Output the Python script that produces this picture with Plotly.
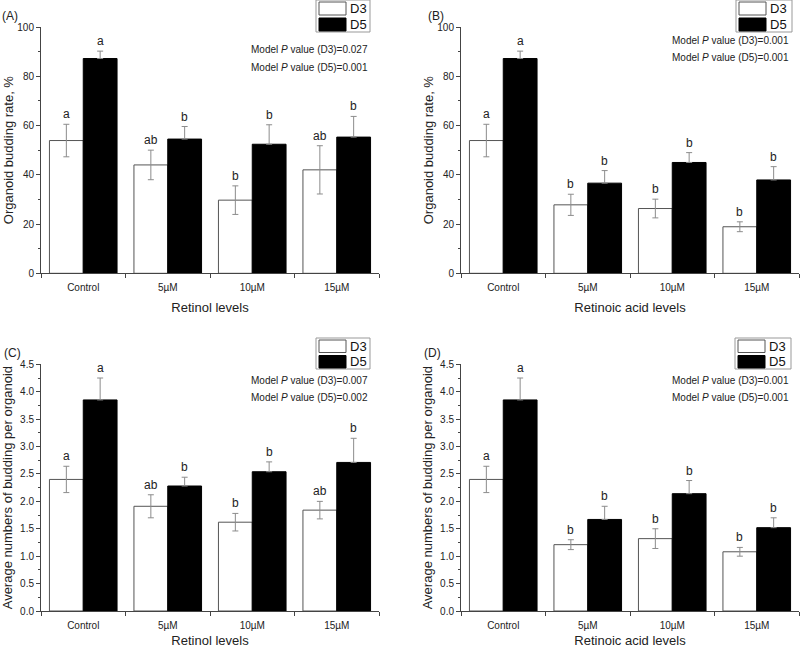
import plotly.graph_objects as go

categories = ["Control", "5µM", "10µM", "15µM"]
xpos = [0, 1, 2, 3]
series_names = ["D3", "D5"]

# Panel A: Retinol, budding rate (%)
a_d3 = [53.9, 44.0, 29.7, 42.0]
a_d3_err = [6.6, 6.0, 5.8, 9.8]
a_d5 = [87.2, 54.5, 52.4, 55.3]
a_d5_err = [3.0, 5.1, 7.9, 8.4]
a_d3_letters = ["a", "ab", "b", "ab"]
a_d5_letters = ["a", "b", "b", "b"]

# Panel B: Retinoic acid, budding rate (%)
b_d3 = [53.9, 27.8, 26.3, 18.9]
b_d3_err = [6.6, 4.3, 3.8, 2.0]
b_d5 = [87.2, 36.6, 45.0, 37.9]
b_d5_err = [3.0, 5.1, 4.0, 5.4]
b_d3_letters = ["a", "b", "b", "b"]
b_d5_letters = ["a", "b", "b", "b"]

# Panel C: Retinol, average number of buds
c_d3 = [2.40, 1.91, 1.62, 1.84]
c_d3_err = [0.24, 0.21, 0.16, 0.16]
c_d5 = [3.85, 2.28, 2.54, 2.71]
c_d5_err = [0.40, 0.16, 0.18, 0.44]
c_d3_letters = ["a", "ab", "b", "ab"]
c_d5_letters = ["a", "b", "b", "b"]

# Panel D: Retinoic acid, average number of buds
d_d3 = [2.40, 1.21, 1.32, 1.08]
d_d3_err = [0.24, 0.09, 0.18, 0.08]
d_d5 = [3.85, 1.67, 2.14, 1.52]
d_d5_err = [0.40, 0.24, 0.24, 0.18]
d_d3_letters = ["a", "b", "b", "b"]
d_d5_letters = ["a", "b", "b", "b"]

p_values = [("0.027", "0.001"), ("0.001", "0.001"), ("0.007", "0.002"), ("0.001", "0.001")]
panel_labels = ["(A)", "(B)", "(C)", "(D)"]
x_titles = ["Retinol levels", "Retinoic acid levels", "Retinol levels", "Retinoic acid levels"]
y_titles = ["Organoid budding rate, %", "Organoid budding rate, %",
            "Average numbers of budding per organoid", "Average numbers of budding per organoid"]

W, H = 800, 648
FONT = "Liberation Sans, Arial, sans-serif"
GREY = "#555555"
ERR = "#8c8c8c"

panels = [
    (a_d3, a_d3_err, a_d5, a_d5_err, a_d3_letters, a_d5_letters),
    (b_d3, b_d3_err, b_d5, b_d5_err, b_d3_letters, b_d5_letters),
    (c_d3, c_d3_err, c_d5, c_d5_err, c_d3_letters, c_d5_letters),
    (d_d3, d_d3_err, d_d5, d_d5_err, d_d3_letters, d_d5_letters),
]

# pixel geometry of each plot area: (left, right, top, bottom)
geom = [(41, 379, 27, 273.3), (461, 799, 27, 273.3),
        (41, 379, 364.3, 611), (461, 799, 364.3, 611)]
# legend box: (left, top, right, bottom)
legend_box = [(316, 0, 370, 32), (736, 0, 792, 32), (316, 338, 370, 369), (735, 338, 791, 369)]
pval_pos = [(370, 49, 67), (791, 40, 57), (370, 381, 398), (791, 381, 398)]
label_pos = [(0, 16), (426, 16), (2, 353), (422, 353)]
ytitle_standoff = [0, 0, 4, 4]

fig = go.Figure()
annotations = []
shapes = []


def px_x(v):
    return v / W


def px_y(v):
    return 1 - v / H


for i, (d3, d3e, d5, d5e, l3, l5) in enumerate(panels):
    n = "" if i == 0 else str(i + 1)
    xa, ya = "x" + n, "y" + n
    fig.add_trace(go.Bar(
        x=xpos, y=d3, width=0.4, offset=-0.4, name=series_names[0], showlegend=False,
        marker=dict(color="white", line=dict(color=GREY, width=1)),
        error_y=dict(type="data", array=d3e, color=ERR, thickness=1, width=3),
        xaxis=xa, yaxis=ya))
    fig.add_trace(go.Bar(
        x=xpos, y=d5, width=0.4, offset=0.0, name=series_names[1], showlegend=False,
        marker=dict(color="black", line=dict(color="black", width=1)),
        error_y=dict(type="data", array=d5e, arrayminus=[0] * len(d5e), symmetric=False,
                     color=ERR, thickness=1, width=3),
        xaxis=xa, yaxis=ya))

    for j in range(len(xpos)):
        annotations.append(dict(x=xpos[j] - 0.2, y=d3[j] + d3e[j], xref=xa, yref=ya,
                                text=l3[j], showarrow=False, yanchor="bottom", yshift=1,
                                font=dict(size=12, color="#222", family=FONT)))
        annotations.append(dict(x=xpos[j] + 0.2, y=d5[j] + d5e[j], xref=xa, yref=ya,
                                text=l5[j], showarrow=False, yanchor="bottom", yshift=1,
                                font=dict(size=12, color="#222", family=FONT)))

    l, r, t, b = geom[i]
    rng = [0, 100] if i < 2 else [0, 4.5]
    dtick = 20 if i < 2 else 0.5
    fig.update_layout({
        "xaxis" + n: dict(domain=[l / W, r / W], anchor=ya, range=[-0.5, 3.5],
                          automargin=False, ticklabelstandoff=5,
                          tickvals=xpos, ticktext=categories, ticks="", showgrid=False,
                          zeroline=False, showline=True, linecolor="#444", linewidth=1,
                          tickfont=dict(size=10, color="#222", family=FONT),
                          minor=dict(tick0=0.5, dtick=1, ticks="outside", ticklen=4,
                                     tickcolor="#444", showgrid=False),
                          title=dict(text=x_titles[i], standoff=10,
                                     font=dict(size=13, color="#222", family=FONT))),
        "yaxis" + n: dict(domain=[1 - b / H, 1 - t / H], anchor=xa, range=rng,
                          automargin=False,
                          dtick=dtick, tick0=0, ticks="outside", ticklen=4, tickcolor="#444",
                          showgrid=False, zeroline=False, showline=True, linecolor="#444",
                          linewidth=1, tickformat=".0f" if i < 2 else ".1f",
                          tickfont=dict(size=10, color="#222", family=FONT),
                          minor=dict(dtick=dtick / 2, ticks="outside", ticklen=2,
                                     tickcolor="#444", showgrid=False),
                          title=dict(text=y_titles[i], standoff=ytitle_standoff[i],
                                     font=dict(size=13, color="#222", family=FONT))),
    })

    # legend (drawn as a key box)
    lx0, ly0, lx1, ly1 = legend_box[i]
    shapes.append(dict(type="rect", xref="paper", yref="paper", x0=px_x(lx0), x1=px_x(lx1),
                       y0=px_y(ly1), y1=px_y(ly0), line=dict(color="#999", width=1),
                       fillcolor="white", layer="above"))
    rowh = (ly1 - ly0) / 2
    for k, (fc, lc) in enumerate([("white", GREY), ("black", "black")]):
        ry0 = ly0 + 2 + k * rowh
        ry1 = ry0 + rowh - 3
        shapes.append(dict(type="rect", xref="paper", yref="paper",
                           x0=px_x(lx0 + 3), x1=px_x(lx0 + 30), y0=px_y(ry1), y1=px_y(ry0),
                           line=dict(color=lc, width=1), fillcolor=fc, layer="above"))
        annotations.append(dict(x=px_x(lx0 + 32), y=px_y((ry0 + ry1) / 2), xref="paper",
                                yref="paper", text=series_names[k], showarrow=False,
                                xanchor="left", yanchor="middle",
                                font=dict(size=13, color="#111", family=FONT)))

    px, py1, py2 = pval_pos[i]
    for k, yy in enumerate([py1, py2]):
        annotations.append(dict(x=px / W, y=1 - yy / H, xref="paper", yref="paper",
                                text="Model <i>P</i> value (D%d)=%s" % (3 + 2 * k, p_values[i][k]),
                                showarrow=False, xanchor="right", yanchor="middle",
                                font=dict(size=10, color="#222", family=FONT)))
    lx, ly = label_pos[i]
    annotations.append(dict(x=lx / W, y=1 - ly / H, xref="paper", yref="paper",
                            text=panel_labels[i], showarrow=False, xanchor="left",
                            yanchor="middle", font=dict(size=12, color="#222", family=FONT)))

fig.update_layout(width=W, height=H, margin=dict(l=0, r=0, t=0, b=0, autoexpand=False),
                  paper_bgcolor="white", plot_bgcolor="white", showlegend=False,
                  annotations=annotations, shapes=shapes, font=dict(family=FONT))

fig.write_html("out.html", config={"displayModeBar": False},
               post_script="document.body.style.margin='0';document.body.style.overflow='hidden';")
